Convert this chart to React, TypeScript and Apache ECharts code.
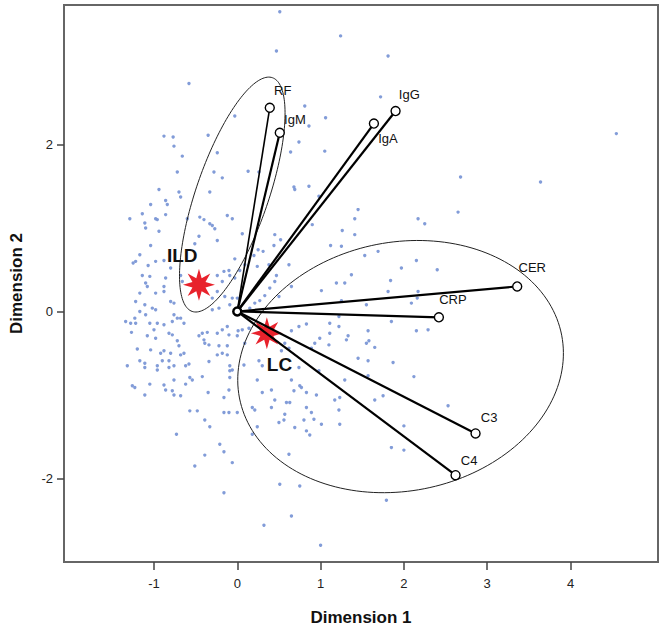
import React, { useEffect, useRef } from 'react';
import * as echarts from 'echarts';

// ---- Data ----
const variables = ['RF', 'IgM', 'IgA', 'IgG', 'CER', 'CRP', 'C3', 'C4'];
const varDim1 = [0.39, 0.51, 1.64, 1.90, 3.36, 2.42, 2.86, 2.62];
const varDim2 = [2.44, 2.14, 2.25, 2.40, 0.30, -0.07, -1.46, -1.96];

const groups = ['ILD', 'LC'];
const groupDim1 = [-0.46, 0.355];
const groupDim2 = [0.32, -0.26];

const xTicks = [-1, 0, 1, 2, 3, 4];
const yTicks = [-2, 0, 2];

// ellipse parameters (data units): centre, semi-axes, rotation (deg)
const ildEllipse = { cx: -0.06, cy: 1.40, a: 1.48, b: 0.435, angle: 71 };
const lcEllipse = { cx: 1.96, cy: -0.66, a: 1.97, b: 1.49, angle: 11 };

const objectScores: [number, number][] = [
  [-0.58, 2.73], [-0.88, 2.10], [-0.77, 2.09], [-0.76, 1.98], [-0.35, 2.11], [-0.66, 1.86], [-0.24, 1.90],
  [-0.72, 1.67], [-0.28, 1.67], [-0.18, 1.60], [-0.94, 1.46], [-0.70, 1.43], [-0.68, 1.37], [-0.33, 1.43],
  [-0.86, 1.33], [-0.84, 1.28], [-1.04, 1.28], [-1.14, 1.17], [-1.29, 1.11], [-0.98, 1.11], [-0.96, 1.10],
  [-0.86, 1.16], [-1.11, 1.06], [-1.10, 1.00], [-0.94, 0.96], [-0.60, 1.11], [-0.45, 1.13], [-0.40, 1.10],
  [-0.33, 1.05], [-0.30, 1.03], [-0.27, 0.99], [-0.12, 1.15], [-0.06, 1.11], [-0.24, 0.85], [-0.46, 0.90],
  [-0.51, 0.81], [-1.04, 0.79], [-1.17, 0.68], [-1.25, 0.58], [-1.22, 0.60], [-1.07, 0.55], [-0.98, 0.60],
  [-0.88, 0.61], [-0.80, 0.52], [-1.14, 0.43], [-1.05, 0.42], [-0.86, 0.40], [-0.88, 0.30], [-1.10, 0.34],
  [-1.08, 0.30], [-1.17, 0.22], [-0.98, 0.22], [-0.88, 0.24], [-0.80, 0.12], [-0.76, 0.10], [-1.22, 0.12],
  [-1.11, 0.08], [-1.02, 0.04], [-0.98, 0.02], [-1.17, 0.00], [-0.68, 0.43], [-0.66, 0.36], [-0.24, 0.43],
  [-0.16, 0.48], [-0.10, 0.49], [-0.09, 0.43], [-0.18, 0.36], [-0.24, 0.24], [-0.30, 0.16], [-0.15, 0.18],
  [-0.06, 0.16], [-0.09, 0.08], [-0.22, 0.04], [-0.30, 0.02],
  [-0.03, 2.34], [0.51, 3.59], [1.24, 3.30], [0.47, 3.12], [1.81, 3.06], [1.72, 2.57], [0.81, 2.46],
  [1.06, 2.32], [0.86, 2.22], [0.74, 2.03], [1.05, 1.92], [0.64, 1.91], [0.13, 1.68], [0.26, 1.67],
  [0.68, 1.49], [0.69, 1.46], [0.86, 1.50], [0.98, 1.38], [1.45, 1.22], [1.41, 1.11], [1.26, 0.97],
  [1.41, 0.92], [2.17, 1.11], [2.25, 1.05], [0.90, 1.04], [1.12, 0.79], [1.25, 0.78], [0.45, 0.92],
  [0.52, 0.86], [0.06, 0.93], [0.44, 0.79], [0.25, 0.74], [0.20, 0.67], [0.31, 0.72], [0.24, 0.54],
  [0.38, 0.56], [0.62, 0.56], [0.47, 0.43], [0.45, 0.36], [0.39, 0.28], [0.33, 0.19], [0.27, 0.13],
  [0.21, 0.10], [0.15, 0.04], [0.50, 0.18], [0.65, 0.30], [1.01, 0.25], [1.19, 0.34], [1.29, 0.34],
  [1.37, 0.44], [1.53, 0.67], [1.69, 0.72], [1.84, 0.37], [1.81, 0.24], [1.97, 0.52], [2.15, 0.61],
  [2.16, 0.16], [1.55, 0.08], [1.25, 0.13], [0.00, 0.16], [-0.03, 0.40], [0.03, 0.49], [0.09, 0.56],
  [-0.03, 0.63], [2.40, 0.50], [2.17, 0.24], [2.09, 0.10], [2.15, -0.23], [2.29, -0.22], [2.12, -0.78],
  [2.53, -1.13], [2.00, -1.37], [2.00, -1.66], [2.68, 1.61], [3.64, 1.55], [4.55, 2.13], [2.65, 1.19],
  [0.01, -0.23], [0.06, -0.22], [0.00, -0.29], [0.14, -0.20], [0.74, -0.18], [0.83, -0.15], [0.65, -0.23],
  [1.11, -0.14], [1.22, -0.18], [1.22, -0.06], [1.11, -0.26], [1.33, -0.29], [1.31, -0.34], [1.57, -0.23],
  [1.58, -0.35], [1.55, -0.38], [1.65, -0.43], [1.85, -0.12], [0.99, -0.32], [0.93, -0.38], [0.89, -0.44],
  [1.10, -0.40], [0.57, -0.38], [0.62, -0.44], [0.53, -0.47], [0.09, -0.38], [0.08, -0.64], [0.26, -0.59],
  [0.30, -0.65], [0.24, -0.82], [0.65, -0.82], [0.75, -0.89], [0.77, -0.91], [0.68, -0.95], [0.41, -0.94],
  [0.30, -0.97], [0.74, -0.67], [0.98, -0.71], [1.29, -0.82], [1.45, -0.56], [1.57, -0.59], [1.87, -0.61],
  [1.57, -0.77], [1.65, -1.06], [1.75, -1.01], [1.23, -1.03], [1.17, -1.06], [0.95, -1.00], [0.83, -0.97],
  [0.45, -1.06], [0.59, -1.09], [0.63, -1.09], [0.18, -1.15], [0.21, -1.18], [0.41, -1.15], [0.83, -1.15],
  [0.89, -1.21], [0.57, -1.23], [0.56, -1.30], [0.50, -1.33], [0.92, -1.29], [0.80, -1.30], [1.22, -1.18],
  [1.23, -1.35], [1.01, -1.35], [0.69, -1.39], [0.24, -1.38], [0.18, -1.47], [0.83, -1.43], [0.87, -1.48],
  [-0.06, -1.81], [0.62, -1.71], [1.85, -1.63], [0.51, -2.07], [0.75, -2.09], [1.79, -2.26], [0.65, -2.45],
  [0.32, -2.56], [0.00, -1.21], [-0.06, -0.70], [1.00, -2.80],
  [-1.34, -0.12], [-1.28, -0.14], [-1.23, -0.08], [-1.22, -0.14], [-1.10, -0.04], [-1.05, -0.14], [-0.96, -0.14],
  [-0.88, -0.16], [-0.76, -0.04], [-0.72, -0.08], [-0.68, -0.08], [-0.78, -0.12], [-0.64, -0.14], [-1.27, -0.25],
  [-1.08, -0.29], [-0.98, -0.32], [-1.00, -0.22], [-0.82, -0.26], [-0.78, -0.28], [-0.72, -0.35], [-0.70, -0.41],
  [-0.46, -0.29], [-0.42, -0.26], [-0.36, -0.25], [-0.40, -0.34], [-0.39, -0.38], [-0.34, -0.40], [-0.24, -0.26],
  [-0.18, -0.22], [-0.12, -0.18], [-0.10, -0.28], [-0.22, -0.41], [-0.12, -0.41], [-0.18, -0.50], [-0.12, -0.52],
  [-1.20, -0.45], [-1.04, -0.46], [-0.92, -0.50], [-0.88, -0.47], [-0.80, -0.50], [-0.68, -0.52], [-0.64, -0.50],
  [-1.32, -0.65], [-1.17, -0.59], [-1.11, -0.62], [-1.11, -0.67], [-0.96, -0.65], [-0.96, -0.70], [-0.90, -0.59],
  [-0.82, -0.59], [-0.82, -0.67], [-0.76, -0.65], [-0.62, -0.65], [-0.58, -0.63], [-0.34, -0.60], [-0.24, -0.52],
  [-0.09, -0.65], [-0.09, -0.71], [-1.26, -0.89], [-1.23, -0.91], [-1.05, -0.87], [-0.88, -0.88], [-0.86, -0.94],
  [-0.76, -0.82], [-0.78, -0.95], [-0.76, -1.00], [-0.68, -1.01], [-0.62, -0.87], [-0.57, -0.79], [-0.54, -0.82],
  [-0.42, -0.78], [-1.11, -1.00], [-0.35, -0.97], [-0.16, -1.03], [-0.10, -0.94], [-0.09, -0.79], [-0.57, -1.19],
  [-0.48, -1.19], [-0.16, -1.21], [-0.10, -1.21], [-0.39, -1.30], [-0.33, -1.38], [-0.73, -1.47], [-0.21, -1.59],
  [-0.16, -1.68], [-0.39, -1.72], [-0.51, -1.85], [-0.16, -2.17],
];

// ---- Presentation (not data) ----
const labelOffsets: Record<string, [number, number]> = {
  RF: [5, -17], IgM: [5, -13], IgA: [5, 16], IgG: [4, -16],
  CER: [2, -18], CRP: [1, -17], C3: [6, -15], C4: [6, -14],
};
const groupLabelOffsets: Record<string, [number, number]> = {
  ILD: [-32, -29], LC: [0, 31],
};

const FONT = "'Liberation Sans', Arial, sans-serif";

function starPath(): string {
  const pts: string[] = [];
  for (let k = 0; k < 16; k++) {
    const ang = (k * Math.PI) / 8;
    const r = k % 2 === 0 ? 10 : 4.4;
    const x = 10 + r * Math.sin(ang);
    const y = 10 - r * Math.cos(ang);
    pts.push((k === 0 ? 'M' : 'L') + x.toFixed(2) + ',' + y.toFixed(2));
  }
  return 'path://' + pts.join('') + 'Z';
}

function ellipsePoints(e: { cx: number; cy: number; a: number; b: number; angle: number }) {
  const th = (e.angle * Math.PI) / 180;
  const out: [number, number][] = [];
  for (let i = 0; i <= 180; i++) {
    const t = (2 * Math.PI * i) / 180;
    const x = e.cx + e.a * Math.cos(t) * Math.cos(th) - e.b * Math.sin(t) * Math.sin(th);
    const y = e.cy + e.a * Math.cos(t) * Math.sin(th) + e.b * Math.sin(t) * Math.cos(th);
    out.push([x, y]);
  }
  return out;
}

export default function App() {
  const ref = useRef<HTMLDivElement>(null);
  useEffect(() => {
    if (!ref.current) return;
    const chart = echarts.init(ref.current, undefined, { renderer: 'svg' });
    const star = starPath();
    const lineWidths: Record<string, number> = { RF: 1.6 };

    const option: any = {
      animation: false,
      backgroundColor: '#ffffff',
      grid: {
        left: 61, right: 8, top: 5, bottom: 66,
        show: true, borderColor: '#666', borderWidth: 2, backgroundColor: 'transparent',
      },
      xAxis: {
        type: 'value', min: -2.08, max: 5.05,
        name: 'Dimension 1', nameLocation: 'middle', nameGap: 47,
        nameTextStyle: { fontSize: 17, fontWeight: 'bold', color: '#111', fontFamily: FONT },
        axisLine: { show: true, onZero: false, lineStyle: { color: '#666', width: 2 } },
        axisTick: { show: true, length: 8, customValues: xTicks, lineStyle: { color: '#444', width: 1.5 } },
        axisLabel: { customValues: xTicks, margin: 15, fontSize: 13, color: '#222', fontFamily: FONT },
        splitLine: { show: false },
      },
      yAxis: {
        type: 'value', min: -3.0, max: 3.67,
        name: 'Dimension 2', nameLocation: 'middle', nameGap: 39,
        nameTextStyle: { fontSize: 17, fontWeight: 'bold', color: '#111', fontFamily: FONT },
        axisLine: { show: true, onZero: false, lineStyle: { color: '#666', width: 2 } },
        axisTick: { show: true, length: 7, customValues: yTicks, lineStyle: { color: '#444', width: 1.5 } },
        axisLabel: { customValues: yTicks, margin: 11, fontSize: 13, color: '#222', fontFamily: FONT },
        splitLine: { show: false },
      },
      series: [
        {
          type: 'scatter', z: 1,
          data: objectScores,
          symbol: 'circle', symbolSize: 3.4,
          itemStyle: { color: '#7b97d6', opacity: 0.95 },
          silent: true,
        },
        {
          type: 'line', z: 2, data: ellipsePoints(ildEllipse), showSymbol: false, silent: true,
          lineStyle: { color: '#222', width: 1 },
        },
        {
          type: 'line', z: 2, data: ellipsePoints(lcEllipse), showSymbol: false, silent: true,
          lineStyle: { color: '#222', width: 1 },
        },
        {
          type: 'scatter', z: 3,
          data: groups.map((g, i) => ({
            value: [groupDim1[i], groupDim2[i]],
            name: g,
            label: {
              show: true, formatter: g,
              position: [groupLabelOffsets[g][0] + 16, groupLabelOffsets[g][1] + 16],
              align: 'left', verticalAlign: 'middle',
              fontSize: 19, fontWeight: 'bold', color: '#111', fontFamily: FONT,
            },
          })),
          symbol: star, symbolSize: 32,
          itemStyle: { color: '#e8222c', opacity: 1 },
        },
        {
          type: 'lines', coordinateSystem: 'cartesian2d', z: 4,
          data: variables.map((v, i) => ({
            coords: [[0, 0], [varDim1[i], varDim2[i]]],
            lineStyle: { width: lineWidths[v] ?? 2.2 },
          })),
          lineStyle: { color: '#000', width: 2.2, opacity: 1 },
          silent: true,
        },
        {
          type: 'scatter', z: 5,
          data: variables.map((v, i) => ({
            value: [varDim1[i], varDim2[i]],
            name: v,
            label: {
              show: true, formatter: v,
              position: [labelOffsets[v][0] + 4.5, labelOffsets[v][1] + 4.5],
              align: 'left', verticalAlign: 'middle',
              fontSize: 13, color: '#111', fontFamily: FONT,
            },
          })),
          symbol: 'circle', symbolSize: 9,
          itemStyle: { color: '#fff', borderColor: '#000', borderWidth: 1.4, opacity: 1 },
        },
        {
          type: 'scatter', z: 5,
          data: [[0, 0]],
          symbol: 'circle', symbolSize: 8,
          itemStyle: { color: '#fff', borderColor: '#000', borderWidth: 2.5, opacity: 1 },
        },
      ],
    };
    chart.setOption(option);
    return () => chart.dispose();
  }, []);

  return (
    <div
      ref={ref}
      style={{ position: 'fixed', left: 0, top: 0, width: 666, height: 631, background: '#fff' }}
    />
  );
}
